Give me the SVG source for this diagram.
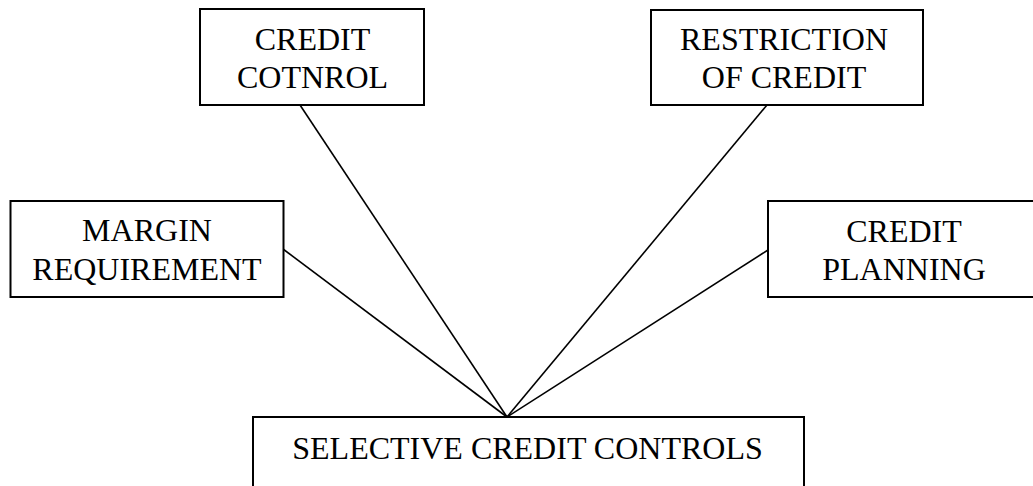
<svg xmlns="http://www.w3.org/2000/svg" width="1033" height="486" viewBox="0 0 1033 486">
<style>
.box{fill:#fff;stroke:#000;stroke-width:2}
.lbl{font-family:"Liberation Serif","Times New Roman",serif;font-size:32px;fill:#000;text-anchor:middle}
.conn{stroke:#000;stroke-width:1.6;fill:none}
</style>
<rect width="1033" height="486" fill="#fff"/>
<g id="connectors">
<line class="conn" x1="300" y1="105" x2="507" y2="417"/>
<line class="conn" x1="283" y1="249" x2="507" y2="417"/>
<line class="conn" x1="767" y1="105" x2="507" y2="417"/>
<line class="conn" x1="768" y1="250" x2="507" y2="417"/>
</g>
<g id="credit-control">
<rect class="box" x="200" y="9" width="224" height="96"/>
<text class="lbl" x="312.5" y="49.5">CREDIT</text>
<text class="lbl" x="312.5" y="87.5">COTNROL</text>
</g>
<g id="restriction">
<rect class="box" x="651" y="10" width="272" height="95"/>
<text class="lbl" x="784" y="49.5">RESTRICTION</text>
<text class="lbl" x="784" y="87.5">OF CREDIT</text>
</g>
<g id="margin">
<rect class="box" x="10.5" y="201" width="273" height="96"/>
<text class="lbl" x="147" y="241">MARGIN</text>
<text class="lbl" x="147" y="279.5">REQUIREMENT</text>
</g>
<g id="planning">
<rect class="box" x="768" y="201" width="272" height="96"/>
<text class="lbl" x="904" y="241.5">CREDIT</text>
<text class="lbl" x="904" y="279.5">PLANNING</text>
</g>
<g id="selective">
<rect class="box" x="253" y="417" width="551" height="90"/>
<text class="lbl" x="527.5" y="458.5">SELECTIVE CREDIT CONTROLS</text>
</g>
</svg>
